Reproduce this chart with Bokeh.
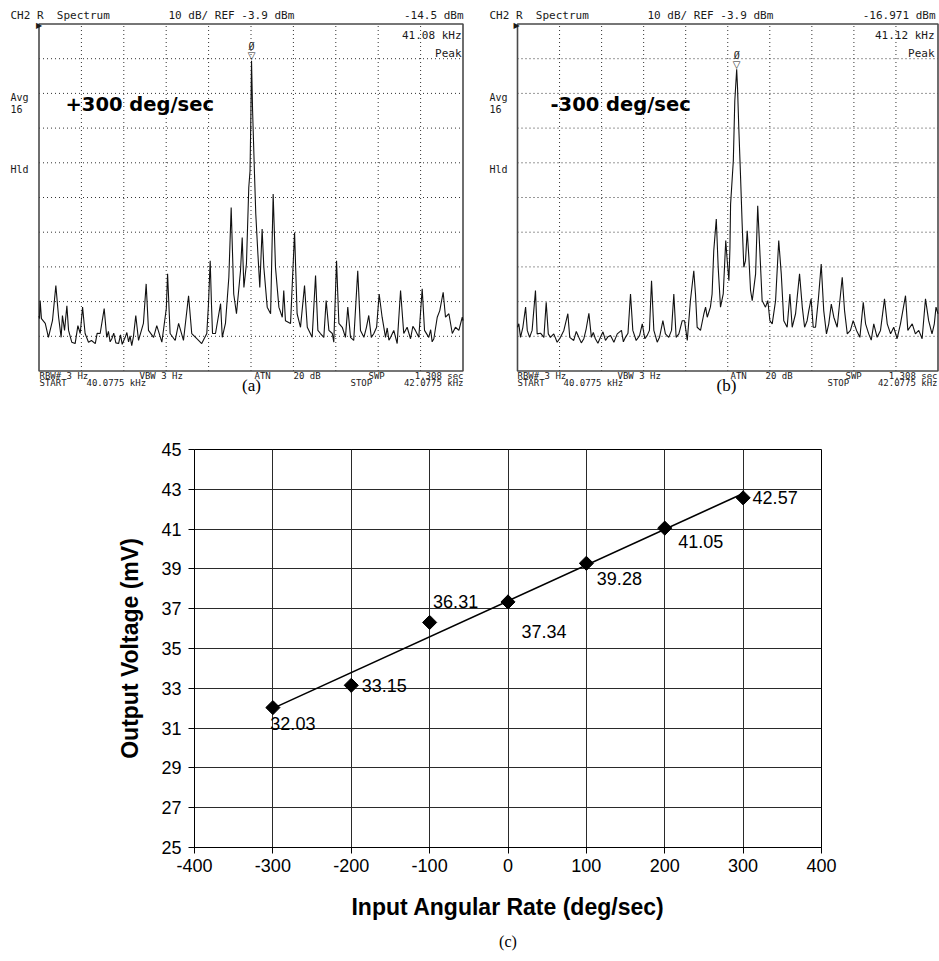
import numpy as np
from bokeh.plotting import figure
from bokeh.layouts import column, row
from bokeh.models import Label, FixedTicker, Range1d
from bokeh.embed import file_html
from bokeh.resources import INLINE

# ---------------- instrument settings ----------------
START_KHZ = 40.0775
STOP_KHZ = 42.0775
REF_DBM = -3.9
DB_PER_DIV = 10.0
N_DIV = 10

# ---------------- trace (a): +300 deg/sec, (kHz, dBm) ----------------
trace_a_points = [
    (40.0775, -88.0), (40.080, -88.8), (40.083, -83.6), (40.089, -88.8), (40.107, -90.2),
    (40.122, -94.2), (40.141, -89.4), (40.157, -79.3), (40.170, -88.4), (40.182, -94.2),
    (40.188, -87.9), (40.198, -92.2), (40.209, -85.1), (40.217, -92.2), (40.232, -95.6),
    (40.248, -96.0), (40.261, -90.8), (40.272, -93.1), (40.283, -85.5), (40.295, -93.1),
    (40.311, -95.6), (40.325, -95.1), (40.343, -96.0), (40.352, -93.0), (40.366, -93.1),
    (40.385, -85.9), (40.397, -94.2), (40.405, -92.5), (40.413, -95.5), (40.421, -94.6),
    (40.430, -93.0), (40.440, -95.8), (40.453, -96.0), (40.462, -93.5), (40.470, -96.2),
    (40.484, -94.2), (40.492, -92.8), (40.500, -95.5), (40.507, -93.8), (40.515, -96.6),
    (40.523, -94.0), (40.534, -87.9), (40.547, -95.1), (40.570, -90.2), (40.583, -78.8),
    (40.594, -92.2), (40.618, -94.2), (40.633, -90.8), (40.657, -95.6), (40.678, -85.9),
    (40.684, -75.9), (40.696, -93.1), (40.720, -95.1), (40.736, -90.2), (40.759, -95.1),
    (40.783, -82.2), (40.798, -93.1), (40.822, -94.6), (40.845, -96.0), (40.869, -93.1),
    (40.877, -84.5), (40.885, -72.1), (40.891, -84.5), (40.896, -93.1), (40.910, -93.1),
    (40.934, -84.5), (40.942, -94.2), (40.957, -90.2), (40.973, -76.9), (40.984, -56.8),
    (40.996, -81.7), (41.009, -87.4), (41.028, -75.0), (41.036, -65.4), (41.044, -79.8),
    (41.056, -73.0), (41.067, -51.0), (41.073, -46.2), (41.077, -29.8), (41.080, -14.5),
    (41.085, -28.9), (41.094, -47.1), (41.100, -58.6), (41.110, -70.1), (41.119, -79.8),
    (41.130, -63.0), (41.138, -74.0), (41.154, -85.5), (41.170, -87.4), (41.182, -52.9),
    (41.193, -74.0), (41.209, -85.5), (41.225, -88.4), (41.232, -80.7), (41.240, -89.4),
    (41.264, -90.2), (41.283, -64.0), (41.295, -87.4), (41.311, -91.3), (41.330, -79.3),
    (41.343, -91.3), (41.366, -94.2), (41.382, -76.4), (41.393, -92.2), (41.405, -93.1),
    (41.421, -94.2), (41.432, -83.6), (41.445, -92.2), (41.461, -93.1), (41.468, -95.6),
    (41.481, -72.1), (41.492, -90.2), (41.508, -91.3), (41.523, -94.2), (41.534, -85.5),
    (41.547, -94.2), (41.562, -95.1), (41.581, -75.0), (41.594, -92.2), (41.610, -94.2),
    (41.622, -91.3), (41.633, -87.9), (41.645, -94.2), (41.657, -93.1), (41.670, -91.3),
    (41.682, -81.7), (41.696, -88.4), (41.712, -94.2), (41.720, -91.5), (41.728, -95.0),
    (41.736, -94.2), (41.751, -92.2), (41.767, -96.0), (41.783, -80.7), (41.798, -93.1),
    (41.814, -91.3), (41.830, -94.6), (41.841, -91.0), (41.853, -92.2), (41.869, -94.2),
    (41.885, -80.2), (41.896, -92.2), (41.916, -94.2), (41.925, -92.0), (41.932, -95.5),
    (41.940, -94.6), (41.956, -88.4), (41.968, -86.5), (41.984, -81.2), (41.995, -88.4),
    (42.011, -87.4), (42.027, -93.1), (42.042, -91.3), (42.058, -92.2), (42.074, -88.4),
    (42.0775, -89.4),
]
marker_a_khz = 41.08
marker_a_dbm = -14.5

# ---------------- trace (b): -300 deg/sec ----------------
trace_b_points = [
    (40.0775, -91.3), (40.0837, -90.3), (40.0918, -94.2), (40.103, -91.3), (40.116, -85.5),
    (40.124, -92.2), (40.135, -94.2), (40.147, -92.2), (40.163, -80.7), (40.171, -93.2),
    (40.187, -93.0), (40.203, -94.2), (40.214, -84.1), (40.224, -93.2), (40.234, -94.2),
    (40.250, -93.2), (40.266, -95.6), (40.282, -94.2), (40.298, -92.2), (40.317, -87.4),
    (40.326, -94.2), (40.345, -95.1), (40.357, -92.5), (40.369, -94.2), (40.381, -95.8),
    (40.393, -94.6), (40.404, -91.8), (40.417, -87.3), (40.429, -94.2), (40.438, -92.8),
    (40.448, -94.6), (40.460, -95.9), (40.472, -94.2), (40.484, -92.6), (40.496, -95.1),
    (40.508, -94.0), (40.520, -93.7), (40.536, -95.6), (40.552, -93.2), (40.572, -92.2),
    (40.581, -95.5), (40.591, -94.2), (40.603, -93.0), (40.615, -81.7), (40.626, -92.2),
    (40.642, -95.1), (40.658, -93.7), (40.671, -90.3), (40.683, -94.6), (40.694, -93.7),
    (40.705, -92.2), (40.715, -77.9), (40.726, -92.2), (40.742, -95.6), (40.753, -94.2),
    (40.769, -89.4), (40.781, -93.2), (40.797, -94.2), (40.810, -92.2), (40.821, -81.7),
    (40.832, -94.2), (40.845, -93.2), (40.861, -89.4), (40.872, -89.4), (40.885, -95.1),
    (40.900, -83.6), (40.916, -75.0), (40.924, -81.7), (40.932, -91.3), (40.948, -92.2),
    (40.964, -87.4), (40.972, -85.5), (40.980, -88.4), (40.995, -85.5), (41.003, -81.7),
    (41.011, -69.2), (41.023, -60.1), (41.032, -74.0), (41.043, -85.5), (41.056, -81.7),
    (41.068, -66.3), (41.075, -72.1), (41.083, -77.9), (41.088, -68.3), (41.091, -55.8),
    (41.104, -43.3), (41.111, -26.1), (41.120, -16.97), (41.124, -22.2), (41.130, -33.7),
    (41.138, -47.2), (41.146, -61.5), (41.154, -74.0), (41.162, -72.1), (41.170, -63.5),
    (41.178, -71.2), (41.186, -80.7), (41.194, -83.6), (41.210, -75.9), (41.220, -56.3),
    (41.230, -69.2), (41.241, -83.6), (41.257, -85.5), (41.268, -83.6), (41.278, -89.4),
    (41.289, -90.3), (41.305, -83.6), (41.320, -66.3), (41.332, -75.9), (41.344, -89.4),
    (41.360, -91.3), (41.373, -81.7), (41.384, -91.3), (41.400, -87.4), (41.419, -75.9),
    (41.432, -85.5), (41.443, -91.3), (41.455, -89.4), (41.463, -86.5), (41.474, -83.1),
    (41.484, -91.3), (41.495, -91.3), (41.508, -83.6), (41.522, -73.1), (41.534, -86.5),
    (41.547, -93.2), (41.558, -90.3), (41.570, -84.6), (41.582, -88.4), (41.598, -91.3),
    (41.622, -76.9), (41.633, -86.5), (41.646, -93.2), (41.661, -92.2), (41.674, -89.4),
    (41.690, -92.2), (41.706, -94.2), (41.722, -84.1), (41.733, -90.3), (41.748, -93.2),
    (41.760, -95.0), (41.772, -90.3), (41.788, -94.2), (41.804, -92.2), (41.823, -83.1),
    (41.836, -90.3), (41.852, -93.2), (41.867, -91.3), (41.883, -94.6), (41.899, -90.3),
    (41.923, -82.2), (41.934, -92.2), (41.955, -90.3), (41.970, -93.2), (41.986, -92.2),
    (42.002, -94.6), (42.018, -83.1), (42.033, -89.4), (42.049, -93.2), (42.060, -90.3),
    (42.068, -85.5), (42.0775, -87.4),
]
marker_b_khz = 41.12
marker_b_dbm = -16.971

# ---------------- chart (c) ----------------
rate_deg_s = [-300, -200, -100, 0, 100, 200, 300]
voltage_mv = [32.03, 33.15, 36.31, 37.34, 39.28, 41.05, 42.57]
x_ticks = [-400, -300, -200, -100, 0, 100, 200, 300, 400]
y_ticks = [25, 27, 29, 31, 33, 35, 37, 39, 41, 43, 45]

# ================= layout / styling =================
TOP_H = 400
BOX_TOP, BOX_BOT = 23.5, 370.5
MONO = "DejaVu Sans Mono"
SANS = "Liberation Sans"
SERIF = "Liberation Serif"
NB = "\u00a0"


def add_label(p, cx0, h, text, x_img, y_img, size, font=MONO, align="left",
              style="normal", color="#1a1a1a"):
    p.add_layout(Label(x=x_img - cx0, y=h - y_img, x_units="screen", y_units="screen",
                       text=text, text_font=font, text_font_size=f"{size}px",
                       text_align=align, text_baseline="middle", text_color=color,
                       text_font_style=style))


def spectrum_panel(cx0, width, box_l, box_r, points, mk_khz, mk_dbm, texts):
    ppk = (box_r - box_l) / (STOP_KHZ - START_KHZ)
    ppd = (BOX_BOT - BOX_TOP) / (N_DIV * DB_PER_DIV)
    x0 = START_KHZ - (box_l - cx0) / ppk
    x1 = START_KHZ + (cx0 + width - box_l) / ppk
    y1 = REF_DBM + BOX_TOP / ppd
    y0 = REF_DBM - (TOP_H - BOX_TOP) / ppd
    p = figure(width=width, height=TOP_H, x_range=Range1d(x0, x1), y_range=Range1d(y0, y1),
               output_backend="svg", toolbar_location=None, min_border=0,
               x_axis_type=None, y_axis_type=None, title=None)
    p.outline_line_color = None
    p.background_fill_color = "white"
    p.border_fill_color = "white"
    bottom = REF_DBM - N_DIV * DB_PER_DIV
    gx = [START_KHZ + (STOP_KHZ - START_KHZ) * k / N_DIV for k in range(1, N_DIV)]
    gy = [REF_DBM - DB_PER_DIV * k for k in range(1, N_DIV)]
    p.segment(x0=gx, y0=[bottom] * len(gx), x1=gx, y1=[REF_DBM] * len(gx),
              line_color="#333333", line_dash="1 3", line_width=1)
    p.segment(x0=[START_KHZ] * len(gy), y0=gy, x1=[STOP_KHZ] * len(gy), y1=gy,
              line_color="#333333", line_dash="1 3", line_width=1)
    p.quad(left=[START_KHZ], right=[STOP_KHZ], top=[REF_DBM], bottom=[bottom],
           fill_color=None, line_color="#4a4a4a", line_width=1.6)
    khz = [pt[0] for pt in points]
    dbm = [pt[1] for pt in points]
    p.line(khz, dbm, line_color="#111111", line_width=1.1)
    # peak marker symbol and its number
    p.add_layout(Label(x=mk_khz, y=mk_dbm, y_offset=5, text="\u25BD", text_font="DejaVu Sans",
                       text_font_size="10px", text_align="center", text_baseline="middle",
                       text_color="#222222"))
    p.add_layout(Label(x=mk_khz, y=mk_dbm, y_offset=14, text="\u00D8", text_font=MONO,
                       text_font_size="10px", text_align="center", text_baseline="middle",
                       text_color="#222222"))
    for t in texts:
        add_label(p, cx0, TOP_H, *t)
    return p


FOOT = 9
texts_a = [
    ("CH2" + NB + "R" + NB + NB + "Spectrum", 10, 15, 11),
    ("10" + NB + "dB/" + NB + "REF" + NB + "-3.9" + NB + "dBm", 168, 15, 11),
    ("-14.5" + NB + "dBm", 463, 15, 11, MONO, "right"),
    ("41.08" + NB + "kHz", 461, 35, 11, MONO, "right"),
    ("Peak", 461, 53, 11, MONO, "right"),
    ("Avg", 10, 97, 10),
    ("16", 10, 108, 10),
    ("Hld", 10, 169, 10),
    ("\u25B6", 35.5, 25, 8, "DejaVu Sans"),
    ("RBW#" + NB + "3" + NB + "Hz", 39, 375.5, FOOT),
    ("VBW" + NB + "3" + NB + "Hz", 139, 375.5, FOOT),
    ("ATN", 254, 375.5, FOOT),
    ("20" + NB + "dB", 293, 375.5, FOOT),
    ("SWP", 368, 375.5, FOOT),
    ("1.308" + NB + "sec", 463, 375.5, FOOT, MONO, "right"),
    ("START", 39, 382, FOOT),
    ("40.0775" + NB + "kHz", 86, 382, FOOT),
    ("STOP", 350, 382, FOOT),
    ("42.0775" + NB + "kHz", 463, 382, FOOT, MONO, "right"),
    ("(a)", 251, 385, 17, SERIF, "center", "normal", "black"),
    ("+300" + NB + "deg/sec", 65, 104, 19.5, "DejaVu Sans", "left", "bold", "black"),
]

texts_b = [
    ("CH2" + NB + "R" + NB + NB + "Spectrum", 489, 15, 11),
    ("10" + NB + "dB/" + NB + "REF" + NB + "-3.9" + NB + "dBm", 647, 15, 11),
    ("-16.971" + NB + "dBm", 935, 15, 11, MONO, "right"),
    ("41.12" + NB + "kHz", 934, 35, 11, MONO, "right"),
    ("Peak", 934, 53, 11, MONO, "right"),
    ("Avg", 489, 97, 10),
    ("16", 489, 108, 10),
    ("Hld", 489, 169, 10),
    ("\u25B6", 513, 25, 8, "DejaVu Sans"),
    ("RBW#" + NB + "3" + NB + "Hz", 517, 375.5, FOOT),
    ("VBW" + NB + "3" + NB + "Hz", 617, 375.5, FOOT),
    ("ATN", 730, 375.5, FOOT),
    ("20" + NB + "dB", 765, 375.5, FOOT),
    ("SWP", 845, 375.5, FOOT),
    ("1.308" + NB + "sec", 937, 375.5, FOOT, MONO, "right"),
    ("START", 517, 382, FOOT),
    ("40.0775" + NB + "kHz", 563, 382, FOOT),
    ("STOP", 827, 382, FOOT),
    ("42.0775" + NB + "kHz", 937, 382, FOOT, MONO, "right"),
    ("(b)", 726, 385, 17, SERIF, "center", "normal", "black"),
    ("-300" + NB + "deg/sec", 550, 104, 19.5, "DejaVu Sans", "left", "bold", "black"),
]

fa = spectrum_panel(0, 470, 38.5, 462.5, trace_a_points, marker_a_khz, marker_a_dbm, texts_a)
fb = spectrum_panel(470, 469, 517.0, 937.5, trace_b_points, marker_b_khz, marker_b_dbm, texts_b)

# ---------------- chart (c) ----------------
fc = figure(width=939, height=531, x_range=Range1d(-400, 400), y_range=Range1d(25, 45),
            output_backend="svg", toolbar_location=None, title=None,
            min_border_left=194, min_border_right=118, min_border_top=49, min_border_bottom=84)
fc.background_fill_color = "white"
fc.border_fill_color = "white"
fc.outline_line_color = "black"
fc.outline_line_width = 1
fc.xaxis.ticker = FixedTicker(ticks=x_ticks)
fc.yaxis.ticker = FixedTicker(ticks=y_ticks)
fc.xgrid.ticker = FixedTicker(ticks=x_ticks)
fc.ygrid.ticker = FixedTicker(ticks=y_ticks)
fc.xaxis.major_label_overrides = {t: str(t) for t in x_ticks}
fc.yaxis.major_label_overrides = {t: str(t) for t in y_ticks}
fc.grid.grid_line_color = "#2a2a2a"
fc.grid.grid_line_width = 1
fc.grid.grid_line_alpha = 1
fc.axis.axis_line_color = "black"
fc.axis.major_tick_line_color = "black"
fc.axis.major_tick_out = 6
fc.axis.major_tick_in = 0
fc.axis.minor_tick_out = 0
fc.axis.minor_tick_in = 0
fc.axis.major_label_text_font = SANS
fc.axis.major_label_text_font_size = "18px"
fc.axis.major_label_text_color = "black"
fc.xaxis.major_label_standoff = 5
fc.yaxis.major_label_standoff = 7
fc.axis.axis_label_text_font = SANS
fc.axis.axis_label_text_font_style = "bold"
fc.axis.axis_label_text_font_size = "23px"
fc.axis.axis_label_text_color = "black"
fc.xaxis.axis_label = "Input Angular Rate (deg/sec)"
fc.yaxis.axis_label = "Output Voltage (mV)"
fc.xaxis.axis_label_standoff = 19
fc.yaxis.axis_label_standoff = 15

coef = np.polyfit(rate_deg_s, voltage_mv, 1)
fit_x = [min(rate_deg_s), max(rate_deg_s)]
fit_y = list(np.polyval(coef, fit_x))
fc.line(fit_x, fit_y, line_color="black", line_width=1.6)
fc.scatter(rate_deg_s, voltage_mv, marker="square", angle=np.pi / 4, size=10,
           fill_color="black", line_color="black")

# data-label placement (pixel offsets from each point: right, down)
label_dx = [20, 33, 26, 36, 33, 36, 32]
label_dy = [16, 0, -21, 30, 15, 13, 0]
for xv, yv, dx, dy in zip(rate_deg_s, voltage_mv, label_dx, label_dy):
    fc.add_layout(Label(x=xv, y=yv, x_offset=dx, y_offset=-dy, text=f"{yv:.2f}",
                        text_font=SANS, text_font_size="18px", text_align="center",
                        text_baseline="middle", text_color="black"))

# ---------------- caption strip "(c)" (frame aligned with chart (c)) ----------------
cap = figure(width=939, height=30, x_range=Range1d(-400, 400), y_range=Range1d(0, 1),
             output_backend="svg", toolbar_location=None, min_border=0,
             x_axis_type=None, y_axis_type=None, title=None)
cap.outline_line_color = None
cap.background_fill_color = "white"
cap.border_fill_color = "white"
cap.add_layout(Label(x=0, y=30 - 10, x_units="data", y_units="screen", text="(c)",
                     text_font=SERIF, text_font_size="16px", text_align="center",
                     text_baseline="middle", text_color="black"))

layout = column(row(fa, fb), fc, cap)
open("out.html", "w").write(file_html(layout, INLINE))
